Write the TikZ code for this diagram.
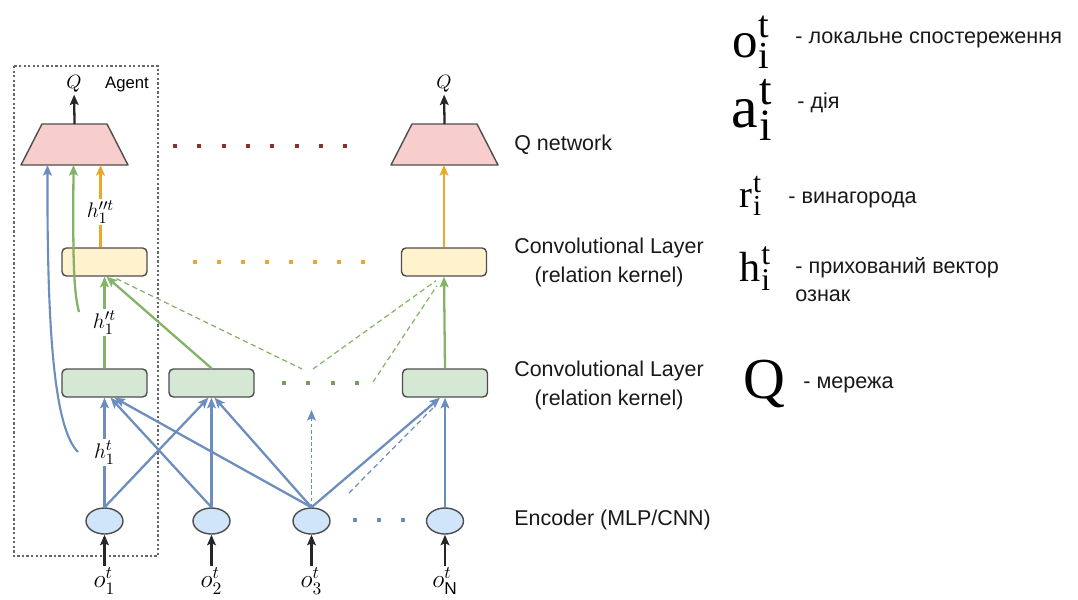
\documentclass[tikz,border=0pt]{standalone}
\usepackage{amsmath}
\usepackage{fontspec}
\setmainfont{Liberation Sans}
\newfontfamily\legfont{Liberation Serif}
\usetikzlibrary{shapes.geometric,arrows.meta,calc}

\definecolor{qpink}{HTML}{F8CECC}
\definecolor{lyell}{HTML}{FFF2CC}
\definecolor{lgreen}{HTML}{D5E8D4}
\definecolor{lblue}{HTML}{D0E5FA}
\definecolor{bl}{HTML}{6C8EBF}
\definecolor{gr}{HTML}{82B366}
\definecolor{ye}{HTML}{E8A92A}
\definecolor{br}{HTML}{8B2F2F}
\definecolor{edge}{HTML}{4D4D4D}

\newcommand\legsym[1]{#1\kern.02em\rlap{\raisebox{.38em}{\scalebox{.75}{t}}}\raisebox{-.22em}{\scalebox{.75}{i}}}

\begin{document}
\begin{tikzpicture}[x=0.02cm,y=-0.02cm,
  qnet/.style={draw=edge,line width=0.8pt,fill=qpink,line join=round},
  layer/.style={draw=edge,line width=0.8pt,rounded corners=2.5pt,minimum width=1.7cm,minimum height=0.56cm,inner sep=0pt},
  enc/.style={ellipse,draw=edge,line width=0.8pt,fill=lblue,minimum width=0.74cm,minimum height=0.52cm,inner sep=0pt},
  tip/.style={-{Stealth[length=6pt,width=5pt,inset=1.2pt]}},
  barrow/.style={tip,draw=bl,line width=1.3pt},
  garrow/.style={tip,draw=gr,line width=1.3pt},
  yarrow/.style={tip,draw=ye,line width=1.3pt},
  karrow/.style={tip,draw=black!85,line width=1.3pt},
  gdash/.style={draw=gr,line width=0.7pt,dash pattern=on 3pt off 2pt},
  lbl/.style={fill=white,inner sep=1pt,font=\fontsize{13}{15}\selectfont},
  txt/.style={font=\fontsize{12.2}{16.5}\selectfont,text=black!90,inner sep=0pt},
  legtxt/.style={font=\fontsize{12.3}{15}\selectfont,text=black!90,anchor=west,inner sep=0pt}]
\useasboundingbox (0,0) rectangle (1078,599);

% agent box
\draw[gray!80!black,line width=0.9pt,dash pattern=on 1.3pt off 1.3pt] (14,66) rectangle (158,556);
\node[font=\fontsize{9.5}{11}\selectfont] (agent) at (127,84) {Agent};

% Q networks
\coordinate (qa) at (74.5,144.5);
\coordinate (qb) at (444.5,144.5);
\foreach \q in {qa,qb}
  \draw[qnet] ($(\q)+(-53.5,20.5)$) -- ($(\q)+(-32.5,-20.5)$) -- ($(\q)+(32.5,-20.5)$) -- ($(\q)+(53.5,20.5)$) -- cycle;
\node[inner sep=1pt,font=\fontsize{10.5}{12}\selectfont] (qla) at (74,84) {$Q$};
\node[inner sep=1pt,font=\fontsize{10.5}{12}\selectfont] (qlb) at (444,84) {$Q$};
\draw[karrow] ($(qa)+(0,-20.5)$) -- (qla);
\draw[karrow] ($(qb)+(0,-20.5)$) -- (qlb);
\coordinate (qin1) at ($(qa)+(-27,20.5)$);
\coordinate (qin2) at ($(qa)+(-1,20.5)$);
\coordinate (qin3) at ($(qa)+(26,20.5)$);
\coordinate (qinN) at ($(qb)+(0,20.5)$);

% layers
\node[layer,fill=lyell] (y1) at (104.5,262) {};
\node[layer,fill=lyell] (yN) at (444,262) {};
\node[layer,fill=lgreen] (g1) at (104.5,383) {};
\node[layer,fill=lgreen] (g2) at (211.5,383) {};
\node[layer,fill=lgreen] (gN) at (445,383) {};

% encoders and inputs
\foreach \n/\x/\s in {1/104.5/1,2/211.5/2,3/311.5/3,N/445/\mathrm{N}}{
  \node[enc] (e\n) at (\x,521) {};
  \node[inner sep=1pt,font=\fontsize{14}{16}\selectfont] (o\n) at (\x,581) {$o^t_{\s}$};
  \draw[karrow] (o\n.north) -- (e\n.south);
}

% dotted rows
\foreach \x in {0,...,7} \fill[br] (175+\x*24.3-2,144) rectangle ++(4,4);
\foreach \x in {0,...,7} \fill[ye] (195+\x*24-2,260) rectangle ++(4,4);
\foreach \x in {0,...,3} \fill[gr!90!black] (284+\x*24.3-2,381) rectangle ++(4,4);
\foreach \x in {0,...,2} \fill[bl] (355+\x*24-2,518) rectangle ++(4,4);

% encoder -> first layer
\draw[barrow] (e1.north) -- (g1.south) node[lbl,midway] {$h_1^t$};
\draw[barrow] (e1.north) -- ([xshift=-0.06cm]g2.south);
\draw[barrow] (e2.north) -- ([xshift=0.12cm]g1.south);
\draw[barrow] (e2.north) -- (g2.south);
\draw[barrow] (e3.north) -- ([xshift=0.2cm]g1.south);
\draw[barrow] (e3.north) -- ([xshift=0.06cm]g2.south);
\draw[barrow] (e3.north) -- ([xshift=-0.1cm]gN.south);
\draw[barrow] (eN.north) -- (gN.south);
\coordinate (e3up) at (311.5,410);
\draw[tip,draw=bl,line width=1pt,dash pattern=on 2pt off 1.5pt] (e3.north) -- (e3up);
\coordinate (bd1) at (349,493);
\coordinate (bd2) at (433,408);
\draw[draw=bl,line width=0.7pt,dash pattern=on 3pt off 2pt] (bd1) -- (bd2);
\coordinate (hb) at (78,452);
\draw[draw=bl,line width=1.2pt,tip] (hb) .. controls (54,428) and (47,330) .. (qin1);

% first layer -> second layer
\draw[garrow] (g1.north) -- (y1.south) node[lbl,midway] {$h_1^{\prime t}$};
\draw[garrow] (g2.north) -- ([xshift=0.04cm]y1.south);
\draw[garrow] (gN.north) -- (yN.south);
\coordinate (gd1) at (302,369);
\coordinate (gd2) at (313,369);
\coordinate (gd3) at (373,382);
\draw[gdash] ($(y1.south)+(12,2)$) -- (gd1);
\draw[gdash] (gd2) -- ($(yN.south)+(-8,4)$);
\draw[gdash] (gd3) -- ($(yN.south)+(-7,9)$);
\coordinate (hg) at (79,312);
\draw[garrow] (hg) .. controls (73,290) and (73,250) .. (qin2);

% second layer -> Q
\draw[yarrow] (y1.north -| qin3) -- (qin3) node[lbl,pos=.43] {$h_1^{\prime\prime t}$};
\draw[yarrow] (yN.north) -- (yN.north |- qinN);

% layer names
\node[txt,anchor=west] (tq) at (514,145) {Q network};
\node[txt,align=center] (tc2) at (609,262) {Convolutional Layer\\(relation kernel)};
\node[txt,align=center] (tc1) at (609,385) {Convolutional Layer\\(relation kernel)};
\node[txt,anchor=west] (te) at (514,520) {Encoder (MLP/CNN)};

% legend
\node[anchor=base west,inner sep=0pt,font=\legfont\fontsize{29}{32}\selectfont] (lo) at (732,57) {\legsym{o}};
\node[anchor=base west,inner sep=0pt,font=\legfont\fontsize{34}{36}\selectfont] (la) at (731,127) {\legsym{a}};
\node[anchor=base west,inner sep=0pt,font=\legfont\fontsize{22}{24}\selectfont] (lr) at (739,207) {\legsym{r}};
\node[anchor=base west,inner sep=0pt,font=\legfont\fontsize{24}{26}\selectfont] (lh) at (739,281) {\legsym{h}};
\node[anchor=base west,inner sep=0pt,font=\legfont\fontsize{33}{35}\selectfont] (lq) at (743,398) {Q};
\node[legtxt] (to) at (795,40) {- локальне спостереження};
\node[legtxt] (ta) at (797,103) {- дія};
\node[legtxt] (tr) at (788,200) {- винагорода};
\node[legtxt] (th) at (795,268) {- прихований вектор};
\node[legtxt] (th2) at (795,296) {ознак};
\node[legtxt] (tqq) at (803,385) {- мережа};
\end{tikzpicture}
\end{document}
